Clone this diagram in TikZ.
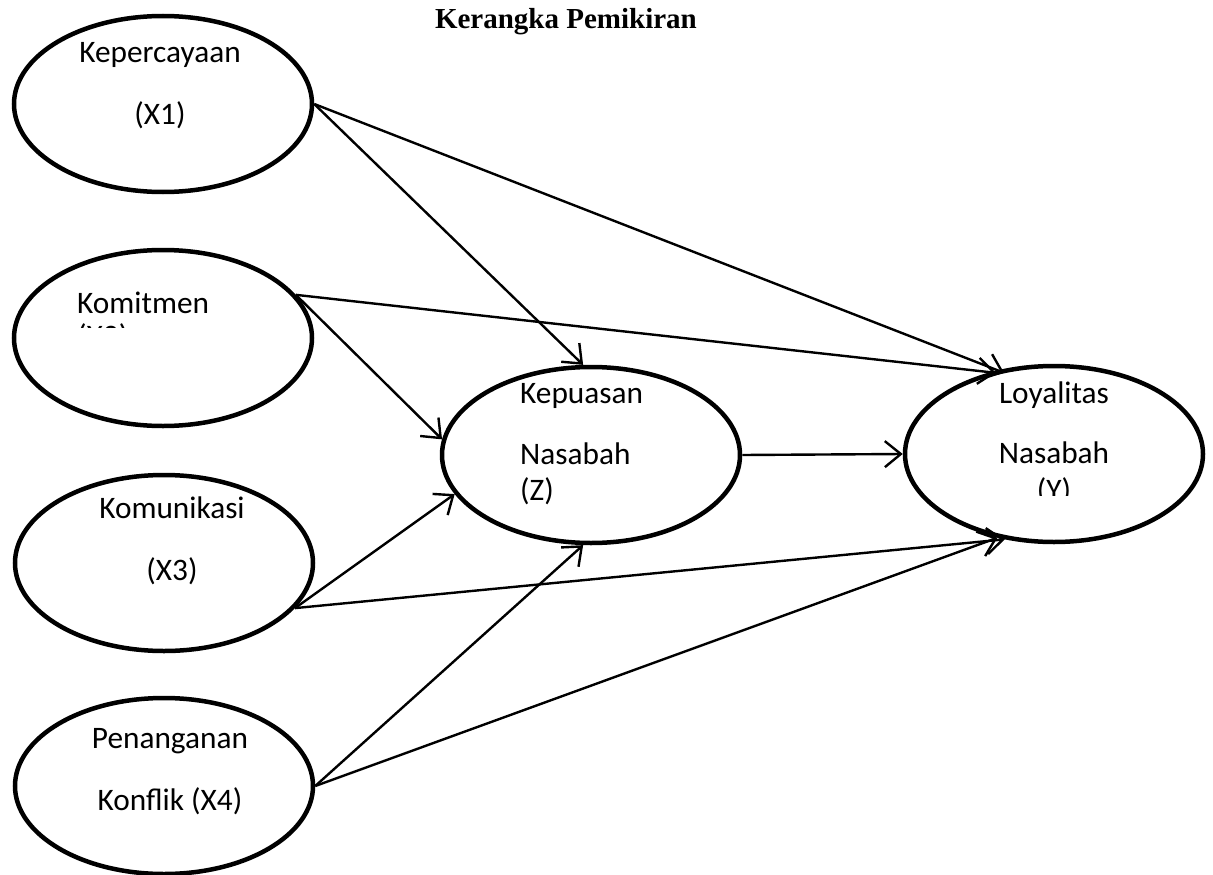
\documentclass[tikz,border=0pt]{standalone}
\usepackage{fontspec}
\setmainfont{Carlito}
\newfontfamily\titlefont{Liberation Serif}
\usetikzlibrary{shapes.geometric,arrows.meta}
\begin{document}
\begin{tikzpicture}[x=1pt,y=-1pt,
  var/.style={draw, line width=4.5pt, ellipse, minimum width=298pt, minimum height=176pt, inner sep=0pt},
  lbl/.style={inner sep=0pt, anchor=base, font=\fontsize{31.3}{37}\selectfont},
  lblw/.style={lbl, anchor=base west},
  link/.style={line width=2.4pt, -{Straight Barb[length=16pt,width=26pt]}}]
\useasboundingbox (0,0) rectangle (1213,875);

\node[inner sep=0pt, anchor=base east, font=\titlefont\bfseries\fontsize{29}{34}\selectfont] (title) at (697,29) {Kerangka Pemikiran};

\node[var] (x1) at (163,104) {};
\node[var] (x2) at (163,338) {};
\node[var] (x3) at (164,563) {};
\node[var] (x4) at (164,786) {};
\node[var] (z) at (591,455) {};
\node[var] (y) at (1054,454) {};

\node[lbl] (x1a) at (160,63) {Kepercayaan};
\node[lbl] (x1b) at (160,124) {(X1)};
\node[lblw] (x2a) at (77,313) {Komitmen};
\begin{scope}
  \clip (60,300) rectangle (200,327);
  \node[lblw] (x2b) at (77,346) {(X2)};
\end{scope}
\node[lbl] (x3a) at (172,518) {Komunikasi};
\node[lbl] (x3b) at (172,580) {(X3)};
\node[lbl] (x4a) at (170,748) {Penanganan};
\node[lbl] (x4b) at (170,810) {Konflik (X4)};
\node[lblw] (za) at (520,403) {Kepuasan};
\node[lblw] (zb) at (520,464) {Nasabah};
\node[lblw] (zc) at (520,500) {(Z)};
\node[lbl] (ya) at (1054,403) {Loyalitas};
\node[lbl] (yb) at (1054,463) {Nasabah};
\begin{scope}
  \clip (1000,470) rectangle (1110,495);
  \node[lbl] (yc) at (1054,500) {(Y)};
\end{scope}

\draw[link] (x1.east) -- (z.95);
\draw[link, shorten >=-7pt] (x1.east) -- (y.124);
\draw[link, shorten >=-6pt] (x2.18) -- (y.128);
\draw[link] (x2.18) -- (z.174);
\draw[link] (x3.-19) -- (z.196);
\draw[link] (x3.-19) -- (y.240);
\draw[link] (x4.east) -- (z.265);
\draw[link] (x4.east) -- (y.236);
\draw[link] (z.east) -- (y.west);
\end{tikzpicture}
\end{document}
